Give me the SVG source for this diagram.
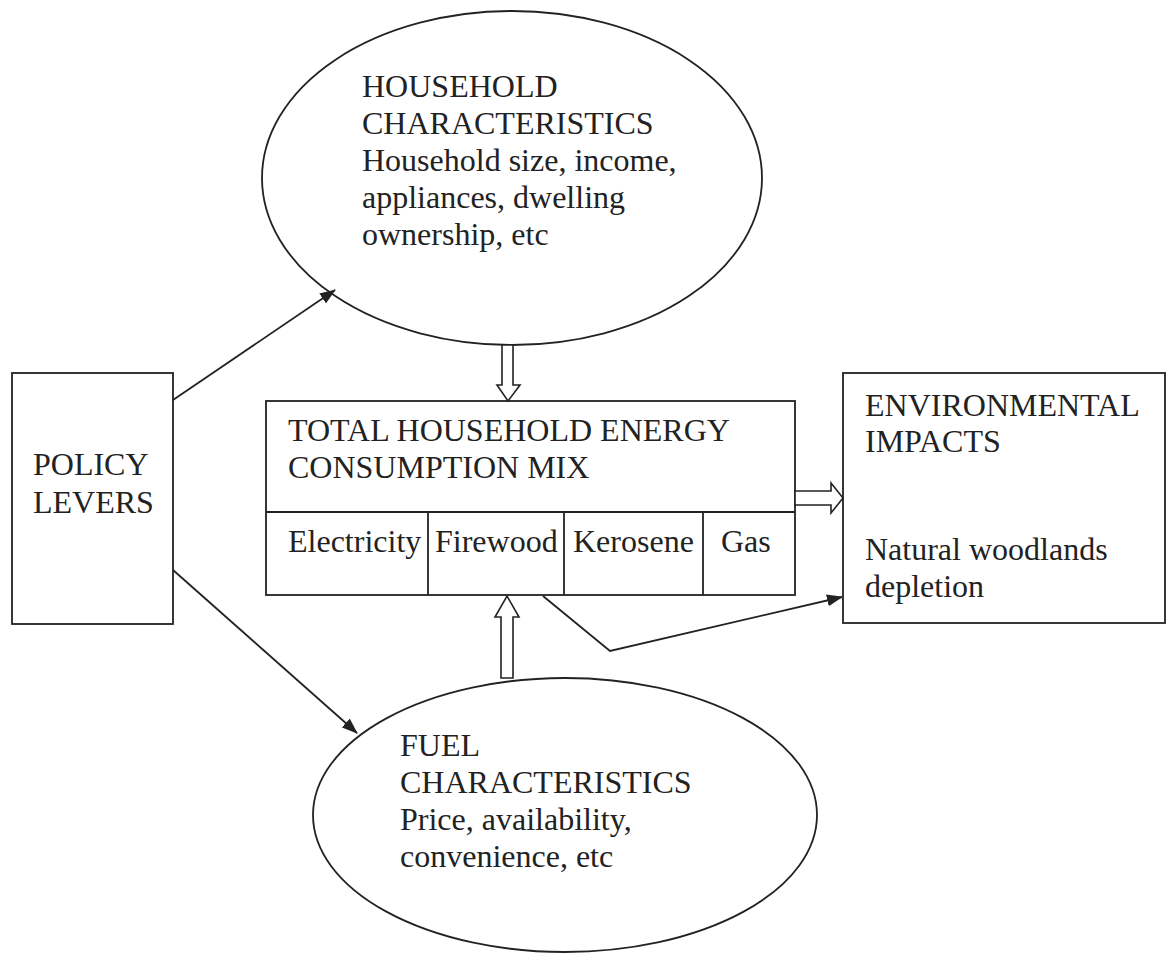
<svg xmlns="http://www.w3.org/2000/svg" width="1172" height="955" viewBox="0 0 1172 955">
<style>
.shape{fill:#fff;stroke:#222;stroke-width:1.8}
.line{fill:none;stroke:#222;stroke-width:1.8}
.hollow{fill:#fff;stroke:#222;stroke-width:1.6;stroke-linejoin:miter}
text{font-family:"Liberation Serif","Times New Roman",serif;font-size:32px;fill:#222}
</style>
<defs>
<marker id="ah" viewBox="0 0 16 12" refX="15" refY="6" markerWidth="16" markerHeight="12" markerUnits="userSpaceOnUse" orient="auto">
<path d="M0,0 L16,6 L0,12 Z" fill="#222"/>
</marker>
</defs>
<rect width="1172" height="955" fill="#fff"/>
<g id="household">
<ellipse class="shape" cx="512" cy="178" rx="250" ry="167"/>
<text x="362" y="97">HOUSEHOLD</text>
<text x="362" y="134">CHARACTERISTICS</text>
<text x="362" y="171">Household size, income,</text>
<text x="362" y="208">appliances, dwelling</text>
<text x="362" y="245">ownership, etc</text>
</g>
<g id="fuel">
<ellipse class="shape" cx="565" cy="815" rx="252" ry="137"/>
<text x="400" y="756">FUEL</text>
<text x="400" y="793">CHARACTERISTICS</text>
<text x="400" y="830">Price, availability,</text>
<text x="400" y="867">convenience, etc</text>
</g>
<g id="policy">
<rect class="shape" x="12" y="373" width="161" height="251"/>
<text x="33" y="475">POLICY</text>
<text x="33" y="513">LEVERS</text>
</g>
<g id="energy-mix">
<rect class="shape" x="266" y="401" width="529" height="194"/>
<line class="line" x1="266" y1="512" x2="795" y2="512"/>
<line class="line" x1="428" y1="512" x2="428" y2="595"/>
<line class="line" x1="564" y1="512" x2="564" y2="595"/>
<line class="line" x1="703" y1="512" x2="703" y2="595"/>
<text x="288" y="441">TOTAL HOUSEHOLD ENERGY</text>
<text x="288" y="478">CONSUMPTION MIX</text>
<text x="288" y="552">Electricity</text>
<text x="435" y="552">Firewood</text>
<text x="573" y="552">Kerosene</text>
<text x="721" y="552">Gas</text>
</g>
<g id="environment">
<rect class="shape" x="843" y="373" width="322" height="250"/>
<text x="865" y="416">ENVIRONMENTAL</text>
<text x="865" y="452">IMPACTS</text>
<text x="865" y="560">Natural woodlands</text>
<text x="865" y="597">depletion</text>
</g>
<g id="connectors">
<line class="line" x1="173" y1="400" x2="335" y2="290" marker-end="url(#ah)"/>
<line class="line" x1="173" y1="570" x2="357" y2="733" marker-end="url(#ah)"/>
<polyline class="line" points="543,596 610,651 842,597" marker-end="url(#ah)"/>
<polygon class="hollow" points="502,345 513,345 513,385 520,385 508,401 497,385 502,385"/>
<polygon class="hollow" points="501,678 513,678 513,617 519,617 507,596 495,617 501,617"/>
<polygon class="hollow" points="795,491 831,491 831,483 843,498 831,513 831,505 795,505"/>
</g>
</svg>
